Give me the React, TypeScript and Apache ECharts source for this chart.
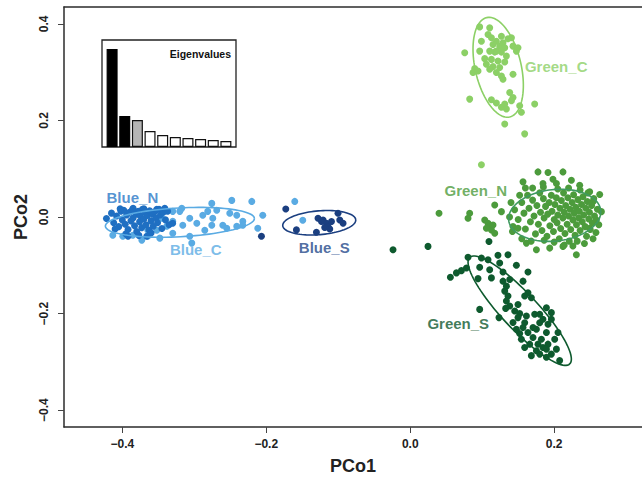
import React, { useEffect, useRef } from "react";
import * as echarts from "echarts";

const xTicks = [-0.4, -0.2, 0, 0.2];
const yTicks = [-0.4, -0.2, 0, 0.2, 0.4];

const eigenValues = [9.8, 3.1, 2.7, 1.6, 1.2, 1.0, 0.9, 0.8, 0.7, 0.6];
const eigenIndex = [1, 2, 3, 4, 5, 6, 7, 8, 9, 10];

const blueN = [
  [-0.422,-0.003],[-0.415,0.008],[-0.412,-0.012],[-0.408,0.002],[-0.405,-0.020],[-0.402,0.012],[-0.400,-0.006],[-0.398,0.014],
  [-0.396,-0.015],[-0.394,0.004],[-0.392,-0.026],[-0.390,0.010],[-0.388,-0.008],[-0.386,0.015],[-0.385,-0.002],[-0.383,-0.018],
  [-0.381,0.006],[-0.380,-0.030],[-0.378,0.012],[-0.376,-0.010],[-0.375,0.002],[-0.373,-0.022],[-0.372,0.016],[-0.370,-0.004],
  [-0.368,0.009],[-0.367,-0.016],[-0.365,0.003],[-0.363,-0.027],[-0.362,0.013],[-0.360,-0.008],[-0.358,0.006],[-0.357,-0.019],
  [-0.355,0.011],[-0.353,-0.002],[-0.351,-0.012],[-0.349,0.016],[-0.347,0.004],[-0.345,-0.024],[-0.343,0.010],[-0.341,0.018],
  [-0.340,-0.006],[-0.337,0.012],[-0.335,-0.016],[-0.330,-0.013],[-0.395,-0.035],[-0.385,0.018],[-0.370,0.017],[-0.360,-0.033],
  [-0.352,0.016],[-0.403,0.017],[-0.410,-0.025],[-0.377,-0.038],[-0.366,-0.040],[-0.392,-0.040]
];

const blueC = [
  [-0.2757,0.0282],[-0.2479,0.0344],[-0.2201,0.0323],[-0.2049,0.0035],[-0.2118,-0.0233],[-0.4132,-0.0377],[-0.3993,-0.0397],
  [-0.3854,-0.0377],[-0.3646,-0.0397],[-0.3479,-0.0438],[-0.3299,-0.0335],[-0.3063,-0.0397],[-0.3201,0.0117],[-0.3063,-0.0027],
  [-0.2882,0.0035],[-0.2743,-0.0027],[-0.2604,-0.0171],[-0.2507,0.0076],[-0.2410,0.0035],[-0.2326,-0.0088],[-0.2688,0.0138],
  [-0.2813,0.0117],[-0.2965,-0.0130],[-0.3160,-0.0171],[-0.3299,-0.0088],[-0.3382,-0.0191],[-0.3451,-0.0027],[-0.3521,-0.0274],
  [-0.3035,-0.0541],[-0.3174,0.0179],[-0.3299,0.0117],[-0.2757,-0.0171],[-0.2854,-0.0274],[-0.2549,-0.0233],[-0.2410,-0.0191],
  [-0.2326,-0.0171],[-0.3646,-0.0274],[-0.3729,-0.0479],[-0.1604,0.0323],[-0.1493,-0.0068]
];

const blueS = [
  [-0.1729,0.0165],[-0.1581,-0.0267],[-0.1303,-0.0315],[-0.1281,-0.0027],[-0.1211,-0.0062],[-0.1164,-0.0130],[-0.1142,-0.0198],
  [-0.1118,-0.0247],[-0.1094,-0.0095],[-0.1003,0.0076],[-0.0979,-0.0062],[-0.0933,-0.0130],[-0.1188,-0.0218],[-0.1233,-0.0095],
  [-0.2067,-0.0397]
];

const greenC = [
  [0.0965,0.3938],[0.1104,0.3918],[0.1081,0.3780],[0.0989,0.3642],[0.1128,0.3712],[0.1197,0.3642],[0.1267,0.3745],[0.1289,0.3609],
  [0.1358,0.3691],[0.1406,0.3712],[0.1150,0.3574],[0.1243,0.3539],[0.1313,0.3506],[0.1428,0.3539],[0.1497,0.3506],[0.1475,0.3436],
  [0.0757,0.3403],[0.0965,0.3436],[0.1174,0.3416],[0.1267,0.3416],[0.1336,0.3333],[0.1035,0.3280],[0.1128,0.3265],[0.1219,0.3230],
  [0.1313,0.3210],[0.1058,0.3163],[0.1150,0.3115],[0.1243,0.3095],[0.0896,0.3074],[0.0872,0.2992],[0.0942,0.3025],[0.1104,0.3060],
  [0.1197,0.2992],[0.1267,0.2922],[0.1289,0.2854],[0.1428,0.2957],[0.1382,0.2580],[0.1428,0.2477],[0.1406,0.2407],[0.1128,0.2428],
  [0.1197,0.2360],[0.1267,0.2272],[0.1313,0.2340],[0.1336,0.2237],[0.1521,0.2305],[0.1544,0.2169],[0.1729,0.2340],[0.0826,0.2442],
  [0.1313,0.1928],[0.1590,0.1722],[0.1197,0.3436],[0.1104,0.3436],[0.0989,0.1084]
];

const greenN = [
  [0.0400,0.0076],[0.0826,0.0076],[0.0803,-0.0027],[0.1174,0.0247],[0.1267,0.0111],[0.1035,-0.0062],[0.1081,-0.0130],[0.1104,-0.0198],
  [0.1128,-0.0267],[0.1174,-0.0335],[0.1058,-0.0233],[0.1150,-0.0165],[0.1567,0.0728],[0.1775,0.0934],[0.1914,0.0920],[0.2122,0.0934],
  [0.2239,0.0761],[0.1983,0.0782],[0.2031,0.0693],[0.1844,0.0693],[0.2354,0.0658],[0.2493,0.0523],[0.2632,0.0467],[0.2539,0.0317],
  [0.2656,0.0111],[0.2586,-0.0062],[0.2493,-0.0233],[0.2308,-0.0782],[0.2122,-0.0609],[0.1938,-0.0644],[0.1753,-0.0679],[0.1614,-0.0541],
  [0.1428,-0.0198],[0.1497,-0.0233],
  [0.145,0.015],[0.150,-0.005],[0.155,0.030],[0.158,0.008],[0.160,-0.025],[0.163,0.045],[0.165,0.018],[0.167,-0.010],[0.170,0.035],
  [0.172,0.002],[0.174,-0.035],[0.176,0.024],[0.178,-0.015],[0.180,0.050],[0.181,0.010],[0.183,-0.028],[0.185,0.038],[0.186,-0.002],
  [0.188,0.022],[0.190,-0.040],[0.191,0.006],[0.193,0.030],[0.194,-0.018],[0.196,0.045],[0.197,0.012],[0.199,-0.030],[0.200,-0.005],
  [0.201,0.026],[0.203,0.040],[0.204,-0.012],[0.205,0.004],[0.207,-0.045],[0.208,0.018],[0.209,-0.024],[0.210,0.034],[0.212,-0.002],
  [0.213,0.050],[0.214,0.010],[0.215,-0.034],[0.216,0.024],[0.218,-0.015],[0.219,0.040],[0.220,0.002],[0.221,-0.050],[0.222,0.016],
  [0.223,-0.026],[0.225,0.030],[0.226,-0.006],[0.227,0.046],[0.228,0.008],[0.229,-0.038],[0.230,0.020],[0.231,-0.016],[0.233,0.036],
  [0.234,-0.002],[0.235,0.012],[0.236,-0.028],[0.238,0.026],[0.239,-0.010],[0.240,0.042],[0.241,0.004],[0.243,-0.020],[0.244,0.018],
  [0.245,-0.040],[0.246,0.032],[0.248,-0.004],[0.249,0.010],[0.250,-0.026],[0.252,0.024],[0.253,-0.012],[0.255,0.038],[0.256,0.002],
  [0.258,-0.032],[0.260,0.016],[0.262,-0.016],[0.214,-0.058],[0.200,-0.052],[0.226,-0.060],[0.186,-0.048],[0.170,0.060],[0.185,0.062],
  [0.205,0.058],[0.220,0.060],[0.236,0.056],[0.247,0.050],[0.160,0.060],[0.152,0.045],[0.140,0.030],[0.138,0.000],[0.142,-0.030],
  [0.155,-0.045],[0.168,-0.050],[0.232,-0.050],[0.242,-0.055],[0.254,-0.045]
];

const greenS = [
  [0.0558,-0.1247],[0.0642,-0.1158],[0.0711,-0.1111],[0.0781,-0.1056],[0.0803,-0.0835],[0.0965,-0.1041],[0.0942,-0.1276],[0.1081,-0.0885],
  [0.1128,-0.1261],[0.1104,-0.1091],[0.1219,-0.0794],[0.1358,-0.0782],[0.1243,-0.0953],[0.1289,-0.1138],[0.1475,-0.1000],[0.1636,-0.1138],
  [0.1567,-0.1329],[0.1289,-0.1329],[0.1336,-0.1432],[0.1382,-0.1296],[0.1313,-0.1535],[0.1358,-0.1638],[0.1336,-0.1741],[0.1382,-0.1844],
  [0.1326,-0.1893],[0.1451,-0.1947],[0.1521,-0.2002],[0.1497,-0.2084],[0.1590,-0.1638],[0.1636,-0.1570],[0.1683,-0.1673],[0.0965,-0.1914],
  [0.1233,-0.2084],[0.1614,-0.2049],[0.1729,-0.2016],[0.1892,-0.1879],[0.1590,-0.2189],[0.1567,-0.2290],[0.1636,-0.2393],[0.1521,-0.2414],
  [0.1706,-0.2290],[0.1753,-0.2325],[0.1799,-0.2189],[0.1844,-0.2119],[0.1914,-0.2222],[0.1961,-0.2119],[0.1892,-0.2393],[0.1706,-0.2496],
  [0.1775,-0.2634],[0.1844,-0.2702],[0.1914,-0.2634],[0.2007,-0.2531],[0.2031,-0.2737],[0.1961,-0.2840],[0.1799,-0.2840],[0.1683,-0.2872],
  [0.1892,-0.2907],[0.2076,-0.2975],[0.2053,-0.2393],[0.1660,-0.2634],[0.1753,-0.2770],[0.1544,-0.2531],[0.1590,-0.2702],[0.1892,-0.2737],
  [0.1822,-0.2531],[0.1475,-0.2325],[0.1428,-0.2187],[0.1961,-0.1981],[0.1799,-0.2016],[0.1497,-0.1811],
  [-0.0239,-0.0679],[0.0247,-0.0609],[0.1094,-0.0506],[0.0989,-0.0850]
];

// ellipse: [centerX, centerY, halfAxisA_x, halfAxisA_y, halfAxisB_x, halfAxisB_y]
const ellipseBlueC = [-0.320, -0.011, 0.1035, 0.0082, 0.0011, -0.0298];
const ellipseBlueS = [-0.1264, -0.0119, 0.0507, 0.0062, 0.0014, -0.0246];
const ellipseGreenC = [0.1222, 0.3101, -0.016, 0.1029, 0.0311, 0.0107];
const ellipseGreenN = [0.2007, 0.0035, 0.0639, 0.0103, 0.0039, -0.0531];
const ellipseGreenS = [0.1521, -0.194, 0.0694, -0.1105, 0.0183, 0.0253];

const groupNames = ["Blue_N", "Blue_C", "Blue_S", "Green_C", "Green_N", "Green_S"];
const labelPos = [
  [-0.386, 0.040],
  [-0.298, -0.0665],
  [-0.1194, -0.0623],
  [0.2028, 0.312],
  [0.091, 0.055],
  [0.0667, -0.2208],
];

const COLORS: Record<string, string> = {
  Blue_N: "#1f6fc2",
  Blue_C: "#5aabe3",
  Blue_S: "#1b3f80",
  Green_C: "#8cd066",
  Green_N: "#4c9b3c",
  Green_S: "#0e5a2e",
};
const LABEL_COLORS: Record<string, string> = {
  Blue_N: "#2a78c6",
  Blue_C: "#5aabe3",
  Blue_S: "#24488a",
  Green_C: "#8cd066",
  Green_N: "#4c9b3c",
  Green_S: "#10592f",
};

const FONT = "'Liberation Sans', Arial, Helvetica, sans-serif";

function fmt(v: number) {
  const s = Math.abs(v).toFixed(1);
  return v < -1e-9 ? "\u2212" + s : s;
}

export default function App() {
  const ref = useRef<HTMLDivElement>(null);
  useEffect(() => {
    if (!ref.current) return;
    const chart = echarts.init(ref.current, null, { renderer: "svg" });

    const scatter = (name: string, data: number[][]) => ({
      type: "scatter",
      name,
      xAxisIndex: 0,
      yAxisIndex: 0,
      data,
      symbolSize: 7,
      itemStyle: { color: COLORS[name], opacity: 1 },
      silent: true,
    });

    const ellipse = (e: number[], color: string) => ({
      type: "custom",
      xAxisIndex: 0,
      yAxisIndex: 0,
      silent: true,
      z: 3,
      data: [e],
      renderItem: (params: any, api: any) => {
        const cx = api.value(0), cy = api.value(1);
        const ax = api.value(2), ay = api.value(3);
        const bx = api.value(4), by = api.value(5);
        const pts: number[][] = [];
        const n = 96;
        for (let i = 0; i <= n; i++) {
          const t = (i / n) * Math.PI * 2;
          pts.push(api.coord([cx + ax * Math.cos(t) + bx * Math.sin(t), cy + ay * Math.cos(t) + by * Math.sin(t)]));
        }
        return {
          type: "polyline",
          shape: { points: pts },
          style: { fill: "none", stroke: color, lineWidth: 1.6 },
        };
      },
    });

    const option: any = {
      animation: false,
      backgroundColor: "#ffffff",
      textStyle: { fontFamily: FONT },
      title: {
        text: "Eigenvalues",
        right: 411,
        top: 48,
        padding: 0,
        textStyle: { fontSize: 10.5, fontWeight: "bold", color: "#111", fontFamily: FONT },
      },
      grid: [
        { left: 64, top: 7, right: 0, bottom: 50 },
        { left: 102, top: 40, width: 134, height: 107, show: true, borderColor: "#222", borderWidth: 1.3, backgroundColor: "#fff", z: 5 },
      ],
      xAxis: [
        {
          type: "value",
          gridIndex: 0,
          min: -0.481,
          max: 0.322,
          splitLine: { show: false },
          axisLine: { show: true, onZero: false, lineStyle: { color: "#2b2b2b", width: 1.5 } },
          axisTick: { show: true, length: 6, customValues: xTicks, lineStyle: { color: "#444", width: 1 } },
          axisLabel: {
            customValues: xTicks,
            formatter: fmt,
            margin: 11,
            fontSize: 12,
            fontWeight: "bold",
            color: "#222",
            fontFamily: FONT,
          },
          name: "PCo1",
          nameLocation: "middle",
          nameGap: 30,
          nameTextStyle: { fontSize: 18, fontWeight: "bold", color: "#222", fontFamily: FONT },
        },
        {
          type: "value",
          gridIndex: 0,
          position: "top",
          min: -0.481,
          max: 0.322,
          splitLine: { show: false },
          axisLine: { show: true, onZero: false, lineStyle: { color: "#2b2b2b", width: 1.5 } },
          axisTick: { show: false },
          axisLabel: { show: false },
        },
        {
          type: "value",
          gridIndex: 1,
          min: 0.2,
          max: 10.8,
          show: false,
        },
      ],
      yAxis: [
        {
          type: "value",
          gridIndex: 0,
          min: -0.435,
          max: 0.435,
          splitLine: { show: false },
          axisLine: { show: true, onZero: false, lineStyle: { color: "#2b2b2b", width: 1.5 } },
          axisTick: { show: true, length: 6, customValues: yTicks, lineStyle: { color: "#444", width: 1 } },
          axisLabel: {
            customValues: yTicks,
            formatter: fmt,
            rotate: 90,
            margin: 14,
            fontSize: 12,
            fontWeight: "bold",
            color: "#222",
            fontFamily: FONT,
          },
          name: "PCo2",
          nameLocation: "middle",
          nameGap: 33,
          nameRotate: 90,
          nameTextStyle: { fontSize: 18, fontWeight: "bold", color: "#222", fontFamily: FONT },
        },
        {
          type: "value",
          gridIndex: 1,
          min: 0,
          max: 10.7,
          show: false,
        },
      ],
      series: [
        scatter("Blue_C", blueC),
        scatter("Blue_N", blueN),
        scatter("Blue_S", blueS),
        scatter("Green_C", greenC),
        scatter("Green_N", greenN),
        scatter("Green_S", greenS),
        ellipse(ellipseBlueC, COLORS.Blue_C),
        ellipse(ellipseBlueS, COLORS.Blue_S),
        ellipse(ellipseGreenC, COLORS.Green_C),
        ellipse(ellipseGreenN, "#3f9a60"),
        ellipse(ellipseGreenS, COLORS.Green_S),
        {
          type: "scatter",
          xAxisIndex: 0,
          yAxisIndex: 0,
          symbolSize: 0,
          silent: true,
          z: 6,
          data: groupNames.map((n, i) => ({
            name: n,
            value: labelPos[i],
            label: { color: LABEL_COLORS[n] },
          })),
          label: {
            show: true,
            position: "inside",
            formatter: (p: any) => p.name,
            fontSize: 15,
            fontWeight: "bold",
            fontFamily: FONT,
          },
        },
        {
          type: "bar",
          xAxisIndex: 2,
          yAxisIndex: 1,
          barWidth: 11,
          silent: true,
          z: 6,
          data: eigenValues.map((v, i) => ({
            value: [eigenIndex[i], v],
            itemStyle:
              i < 2
                ? { color: "#000", borderColor: "#000", borderWidth: 1.2 }
                : i === 2
                ? { color: "#b5b5b5", borderColor: "#111", borderWidth: 1.2 }
                : { color: "#fff", borderColor: "#111", borderWidth: 1.2 },
          })),
        },
      ],
    };
    chart.setOption(option);
    return () => chart.dispose();
  }, []);
  return <div ref={ref} style={{ position: "fixed", left: 0, top: 0, width: 642, height: 480 }} />;
}
